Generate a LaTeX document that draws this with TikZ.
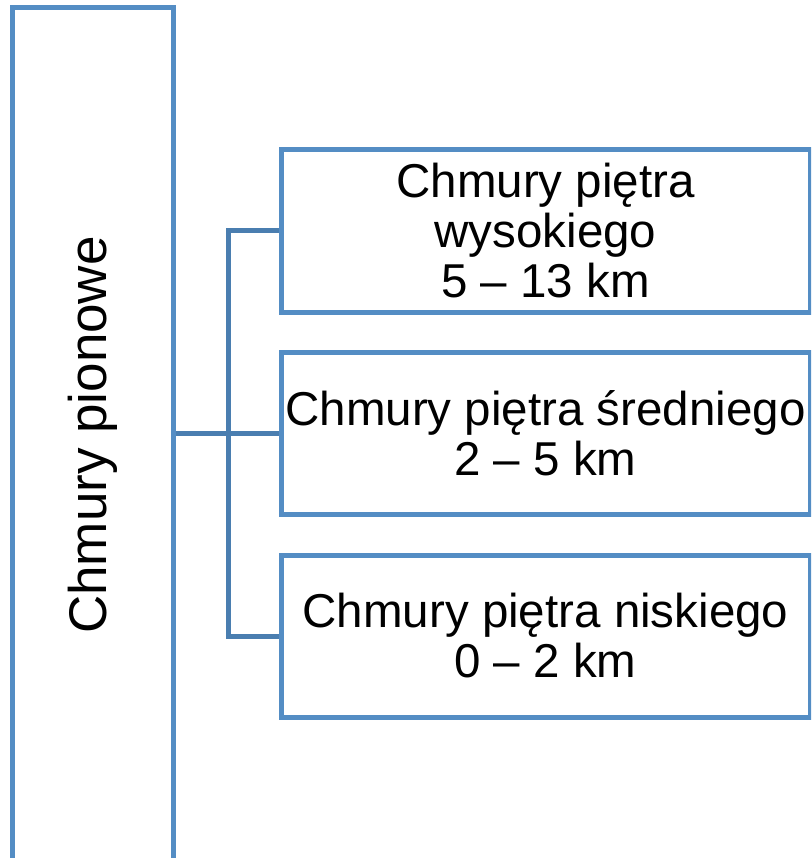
\documentclass[tikz,border=0pt]{standalone}
\usepackage{fontspec}
\setmainfont{Liberation Sans}
\definecolor{boxblue}{RGB}{84,141,196}
\definecolor{linkblue}{RGB}{74,126,176}
\begin{document}
\begin{tikzpicture}[x=1pt,y=-1pt,
  boxstyle/.style={draw=boxblue,line width=5pt,fill=white,rectangle,inner sep=0pt,
    minimum width=529pt,minimum height=162pt,align=center,
    font=\fontsize{47.5}{50}\selectfont},
  linkstyle/.style={draw=linkblue,line width=5pt}]
\useasboundingbox (0,0) rectangle (811,858);
\clip (0,0) rectangle (811,858);
\node[draw=boxblue,line width=5pt,rectangle,inner sep=0pt,minimum width=161pt,minimum height=856pt] (L) at (92.5,436) {};
\node[rotate=90,font=\fontsize{53}{56}\selectfont,inner sep=0pt] (Lt) at (93,435) {Chmury pionowe};
\node[boxstyle] (b1) at (545.5,231) {Chmury piętra\\wysokiego\\5 – 13 km};
\node[boxstyle] (b2) at (545.5,433.5) {Chmury piętra średniego\\2 – 5 km};
\node[boxstyle] (b3) at (545.5,636) {Chmury piętra niskiego\\0 – 2 km};
\coordinate (jx) at (228,433);
\draw[linkstyle] (L.east |- b2.west) -- (b2.west);
\draw[linkstyle] (b1.west) -| (jx) |- (b3.west);
\end{tikzpicture}
\end{document}
